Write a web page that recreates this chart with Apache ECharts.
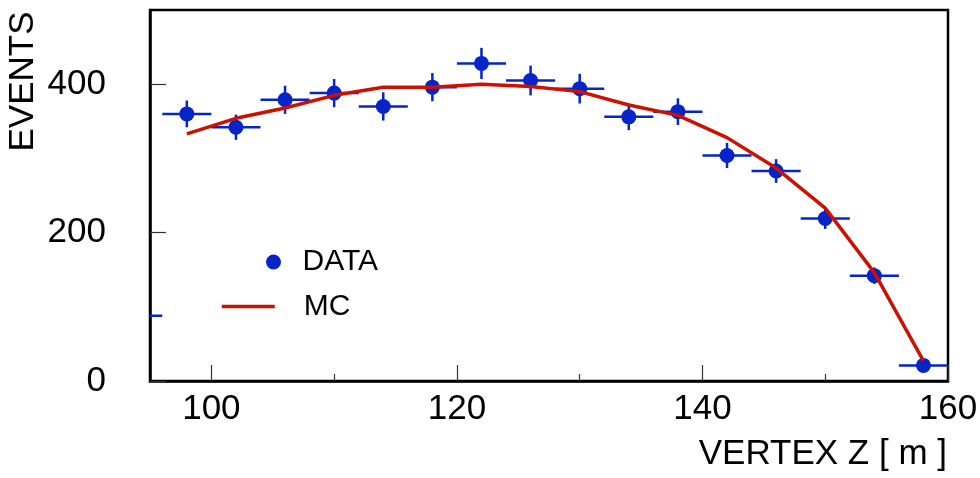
<!DOCTYPE html>
<html>
<head>
<meta charset="utf-8">
<script src="https://cdn.jsdelivr.net/npm/echarts@6/dist/echarts.min.js"></script>
<style>
html,body{margin:0;padding:0;background:#fff;}
#chart{width:980px;height:478px;}
</style>
</head>
<body>
<div id="chart"></div>
<script>
// ---- data ----
const binWidth = 4;
const dataX = [94, 98, 102, 106, 110, 114, 118, 122, 126, 130, 134, 138, 142, 146, 150, 154, 158];
const dataValues = [88, 360, 342, 379, 388, 370, 396, 428, 405, 394, 356, 363, 304, 283, 219, 142, 21];
const dataErrors = [9, 18, 17, 19, 19, 19, 19, 21, 20, 20, 18, 18, 17, 16, 14, 11, 4];
const mcX = [98, 102, 106, 110, 114, 118, 122, 126, 130, 134, 138, 142, 146, 150, 154, 158];
const mcValues = [333, 354, 368, 385, 396, 396, 400, 397, 390, 372, 358, 328, 287, 233, 146, 27];
const xMajorTicks = [100, 120, 140, 160];
const xMinorTicks = [110, 130, 150];
const yTicks = [0, 200, 400];
const xRange = [95, 160];
const yRange = [0, 500];
const xTitle = 'VERTEX Z [ m ]';
const yTitle = 'EVENTS';
const seriesNames = ['DATA', 'MC'];

const FONT = "'Liberation Sans', Arial, Helvetica, sans-serif";
const BLUE = '#0624c8';
const RED = '#cc1100';
const FS = 35;

const chart = echarts.init(document.getElementById('chart'), null, {renderer: 'canvas'});

const pts = dataX.map((x, i) => [x, dataValues[i], dataErrors[i]]);
const mc = mcX.map((x, i) => [x, mcValues[i]]);

const option = {
  animation: false,
  backgroundColor: '#fff',
  grid: {left: 150, right: 32, top: 10, bottom: 97, outerBoundsMode: 'none', containLabel: false,
    show: true, borderColor: '#000', borderWidth: 2.5, backgroundColor: 'transparent'},
  legend: [
    {
      data: [seriesNames[0]], left: 266, top: 247, padding: 0, orient: 'vertical',
      itemWidth: 48, itemHeight: 15, selectedMode: false,
      itemStyle: {opacity: 1},
      textStyle: {fontFamily: FONT, fontSize: 30, color: '#000', lineHeight: 30}
    },
    {
      data: [seriesNames[1]], left: 220, top: 291.5, padding: 0, orient: 'vertical',
      itemWidth: 53, itemHeight: 10, selectedMode: false,
      itemStyle: {opacity: 0},
      lineStyle: {width: 3.5, color: RED},
      formatter: n => '{p|' + n + '}',
      textStyle: {fontFamily: FONT, fontSize: 30, color: '#000', lineHeight: 30,
        rich: {p: {fontFamily: FONT, fontSize: 30, color: '#000', padding: [0, 0, 0, 24]}}}
    }
  ],
  xAxis: [
    {
      type: 'value', min: xRange[0], max: xRange[1], position: 'bottom',
      name: xTitle, nameLocation: 'end', nameGap: -1, nameMoveOverlap: false,
      nameTextStyle: {fontFamily: FONT, fontSize: FS, color: '#000', align: 'right', verticalAlign: 'top', padding: [56, 0, 0, 0]},
      axisLine: {show: true, lineStyle: {color: '#000', width: 2.5}},
      axisTick: {show: true, inside: true, length: 16, customValues: xMajorTicks, lineStyle: {color: '#333', width: 1.2}},
      axisLabel: {show: true, customValues: xMajorTicks, margin: 11, fontFamily: FONT, fontSize: FS, color: '#000'},
      splitLine: {show: false}
    },
    {
      type: 'value', min: xRange[0], max: xRange[1], position: 'bottom', offset: 0,
      axisLine: {show: false},
      axisTick: {show: true, inside: true, length: 7, customValues: xMinorTicks, lineStyle: {color: '#333', width: 1.2}},
      axisLabel: {show: false},
      splitLine: {show: false}
    }
  ],
  yAxis: {
    type: 'value', min: yRange[0], max: yRange[1],
    name: yTitle, nameLocation: 'middle', nameGap: 109, nameRotate: 90, nameMoveOverlap: false,
    nameTextStyle: {fontFamily: FONT, fontSize: FS, color: '#000', padding: [0, 0, 0, 228]},
    axisLine: {show: true, lineStyle: {color: '#000', width: 2.5}},
    axisTick: {show: true, inside: true, length: 16, customValues: yTicks, lineStyle: {color: '#333', width: 1.2}},
    axisLabel: {show: true, customValues: yTicks, margin: 44, fontFamily: FONT, fontSize: FS, color: '#000'},
    splitLine: {show: false}
  },
  series: [
    {
      name: seriesNames[0] + ' errors', type: 'custom', clip: true, z: 2,
      data: pts,
      renderItem: function (params, api) {
        const x = api.value(0), y = api.value(1), e = api.value(2);
        const l = api.coord([x - binWidth / 2, y]);
        const r = api.coord([x + binWidth / 2, y]);
        const t = api.coord([x, y + e]);
        const b = api.coord([x, y - e]);
        const st = {stroke: BLUE, lineWidth: 2.5};
        return {type: 'group', children: [
          {type: 'line', shape: {x1: l[0], y1: l[1], x2: r[0], y2: r[1]}, style: st},
          {type: 'line', shape: {x1: t[0], y1: t[1], x2: b[0], y2: b[1]}, style: st}
        ]};
      },
      silent: true
    },
    {
      name: seriesNames[0], type: 'scatter', clip: true, z: 3,
      symbol: 'circle', symbolSize: 15,
      itemStyle: {color: BLUE, opacity: 1},
      data: pts.map(p => [p[0], p[1]])
    },
    {
      name: seriesNames[1], type: 'line', z: 4, symbol: 'none', showSymbol: false,
      lineStyle: {color: RED, width: 3.5},
      itemStyle: {color: RED},
      data: mc
    }
  ]
};
chart.setOption(option);
</script>
</body>
</html>
